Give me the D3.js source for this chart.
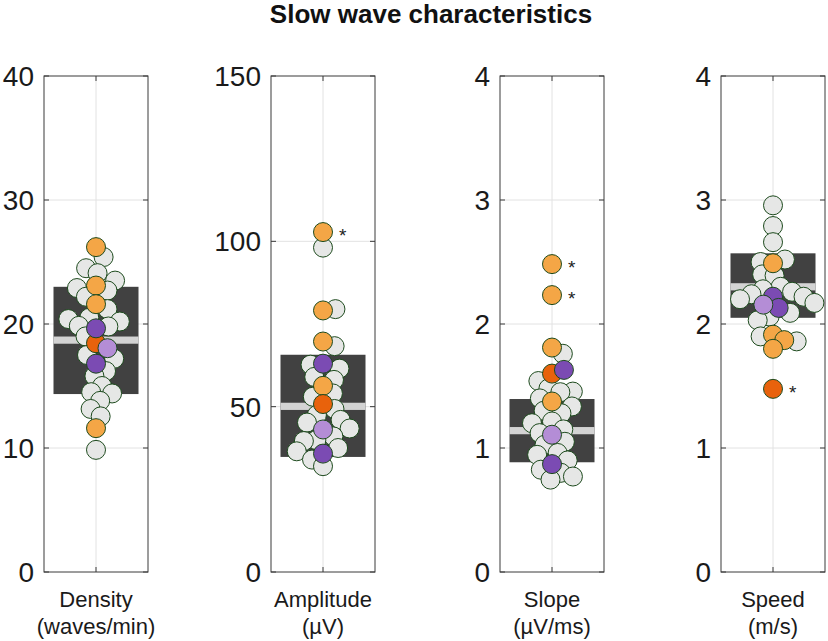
<!DOCTYPE html>
<html><head><meta charset="utf-8">
<script src="https://cdn.jsdelivr.net/npm/d3@7/dist/d3.min.js"></script>
<style>body{margin:0;background:#fff}svg{display:block}text{font-family:"Liberation Sans",Arial,Helvetica,sans-serif}</style>
</head><body><svg id="c" width="828" height="641"></svg>
<script>
const title = "Slow wave characteristics";
const labels = ["Density", "Amplitude", "Slope", "Speed"];
const units = ["(waves/min)", "(µV)", "(µV/ms)", "(m/s)"];
const yMax = [40, 150, 4, 4];
const yTicks = [[0,10,20,30,40],[0,50,100,150],[0,1,2,3,4],[0,1,2,3,4]];
const grayVals = [
  [25.4,24.5,24.1,23.5,22.9,22.7,22.2,21.2,20.5,20.4,20.2,19.85,19.8,19.0,17.5,17.2,16.2,15.8,15.0,14.5,14.4,13.8,13.15,12.55,9.85],
  [98.1,79.5,68.3,62.7,61.5,59.0,58.1,54.0,53.0,49.3,47.5,46.0,45.2,43.4,41.0,39.9,39.6,37.5,36.5,34.0,32.0],
  [1.76,1.54,1.48,1.455,1.45,1.40,1.335,1.30,1.28,1.214,1.20,1.15,1.12,1.05,1.026,0.96,0.945,0.90,0.825,0.80,0.77,0.745],
  [2.957,2.79,2.66,2.52,2.50,2.40,2.39,2.30,2.28,2.26,2.24,2.22,2.17,2.20,2.09,2.06,2.03,1.86,1.90]
];
const orangeVals = [[26.2,23.1,21.6,11.6],[102.8,79.1,69.7,56.3],[2.483,2.233,1.81,1.375],[2.49,1.914,1.87,1.80]];
const darkOrangeVals = [[18.45],[50.8],[1.60],[1.477]];
const purpleVals = [[19.65,16.8],[63.0,35.8],[1.63,0.87],[2.22,2.13]];
const lightPurpleVals = [[18.05],[43.1],[1.107],[2.156]];
const boxQ1 = [14.35, 34.8, 0.885, 2.05];
const boxMedian = [18.7, 50.1, 1.14, 2.30];
const boxQ3 = [23.0, 65.7, 1.395, 2.57];
const starVals = [[], [102.8], [2.483, 2.233], [1.477]];

const colors = {gray:"#e6e7e6", orange:"#f4a646", darkOrange:"#e8620c", purple:"#7b4bb3", lightPurple:"#b48dd6"};

const svg = d3.select("#c");
svg.append("text").attr("x", 431).attr("y", 23).attr("text-anchor","middle")
  .attr("font-weight","bold").attr("font-size", 26).attr("fill","#111").text(title);

const panelLeft = [44, 271, 500, 721];
const pw = 104, plotTop = 76, plotBottom = 572;
const R = 9.5, D = 12.5;

function swarm(points, y) {
  const placed = [];
  points.forEach(p => {
    const py = y(p.v);
    const cands = [0];
    placed.forEach(q => {
      const dy = Math.abs(q.py - py);
      if (dy < D) {
        const dx = Math.sqrt(D*D - dy*dy);
        cands.push(q.px + dx, q.px - dx);
      }
    });
    cands.sort((a,b) => Math.abs(a) - Math.abs(b) || b - a);
    let best = 0;
    for (const c of cands) {
      if (placed.every(q => (q.px - c)**2 + (q.py - py)**2 >= D*D - 0.01)) { best = c; break; }
    }
    p.px = best; p.py = py;
    placed.push(p);
  });
  return points;
}

labels.forEach((lab, i) => {
  const x0 = panelLeft[i], cx = x0 + pw/2;
  const y = d3.scaleLinear().domain([0, yMax[i]]).range([plotBottom, plotTop]);
  const g = svg.append("g");
  g.selectAll(".gy").data(yTicks[i].slice(1, -1)).join("line")
    .attr("x1", x0).attr("x2", x0+pw).attr("y1", d=>y(d)).attr("y2", d=>y(d))
    .attr("stroke","#e2e2e2").attr("stroke-width",1);
  g.append("line").attr("x1",cx).attr("x2",cx).attr("y1",plotTop).attr("y2",plotBottom)
    .attr("stroke","#e2e2e2").attr("stroke-width",1);
  g.append("rect").attr("x", cx-42.5).attr("width",85)
    .attr("y", y(boxQ3[i])).attr("height", y(boxQ1[i]) - y(boxQ3[i])).attr("fill","#414141");
  g.append("rect").attr("x", cx-42.5).attr("width",85)
    .attr("y", y(boxMedian[i]) - 3.6).attr("height", 7.2).attr("fill","#d3d3d3");
  const colored = [];
  orangeVals[i].forEach(v => colored.push({v, c:colors.orange}));
  darkOrangeVals[i].forEach(v => colored.push({v, c:colors.darkOrange}));
  purpleVals[i].forEach(v => colored.push({v, c:colors.purple}));
  lightPurpleVals[i].forEach(v => colored.push({v, c:colors.lightPurple}));
  const grays = grayVals[i].map(v => ({v, c:colors.gray}));
  const med = boxMedian[i];
  const all = colored.concat(grays.slice().sort((a,b)=>Math.abs(a.v-med)-Math.abs(b.v-med)));
  swarm(all, y);
  const drawOrder = grays.concat(colored);
  g.selectAll(".pt").data(drawOrder).join("circle")
    .attr("cx", d => cx + d.px).attr("cy", d => d.py).attr("r", R)
    .attr("fill", d => d.c).attr("stroke","#1d4a1d").attr("stroke-width",1);
  g.selectAll(".st").data(starVals[i]).join("text")
    .attr("x", cx + 16).attr("y", d => y(d) + 10).attr("font-size", 19).attr("fill","#222").text("*");
  g.append("rect").attr("x", x0).attr("y", plotTop).attr("width", pw).attr("height", plotBottom-plotTop)
    .attr("fill","none").attr("stroke","#3a3a3a").attr("stroke-width",1);
  const tk = 5;
  g.selectAll(".tl").data(yTicks[i]).join("line")
    .attr("x1", x0).attr("x2", x0+tk).attr("y1", d=>y(d)).attr("y2", d=>y(d)).attr("stroke","#3a3a3a");
  g.selectAll(".tr").data(yTicks[i]).join("line")
    .attr("x1", x0+pw).attr("x2", x0+pw-tk).attr("y1", d=>y(d)).attr("y2", d=>y(d)).attr("stroke","#3a3a3a");
  g.append("line").attr("x1",cx).attr("x2",cx).attr("y1",plotBottom).attr("y2",plotBottom-tk).attr("stroke","#3a3a3a");
  g.append("line").attr("x1",cx).attr("x2",cx).attr("y1",plotTop).attr("y2",plotTop+tk).attr("stroke","#3a3a3a");
  g.selectAll(".tt").data(yTicks[i]).join("text")
    .attr("x", x0 - 10).attr("y", d => y(d)).attr("dy","0.36em").attr("text-anchor","end")
    .attr("font-size", 28).attr("fill","#1a1a1a").text(d => d);
  g.append("text").attr("x", cx).attr("y", 607).attr("text-anchor","middle").attr("font-size",22).attr("fill","#1a1a1a").text(lab);
  g.append("text").attr("x", cx).attr("y", 634).attr("text-anchor","middle").attr("font-size",22).attr("fill","#1a1a1a").text(units[i]);
});
</script></body></html>
